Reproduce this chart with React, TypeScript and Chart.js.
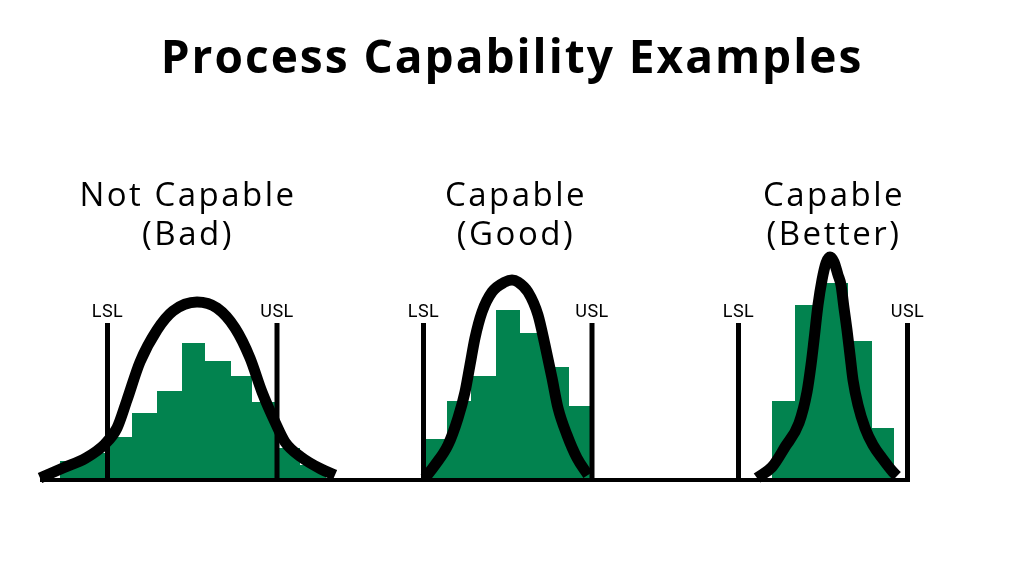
import React, { useEffect, useRef } from "react";
import { Chart, registerables } from "chart.js";

Chart.register(...registerables);

// ---------- data ----------
const TITLE = "Process Capability Examples";
const PANEL_TITLES = [
  ["Not Capable", "(Bad)"],
  ["Capable", "(Good)"],
  ["Capable", "(Better)"],
];

// process axis (arbitrary measurement units) and frequency axis
const AXIS_EXTENT = [40, 910];

// histograms: bin edges and counts
const H1_EDGES = [60, 84, 108, 132, 157, 182, 205, 231, 252, 276, 300, 326];
const H1_COUNTS = [19, 27, 43, 67, 89, 137, 119, 104, 78, 32, 15];
const H2_EDGES = [422, 447, 471, 496, 520, 545, 569, 592];
const H2_COUNTS = [41, 79, 104, 170, 147, 113, 74];
const H3_EDGES = [772, 795, 822, 848, 872, 894];
const H3_COUNTS = [79, 175, 197, 139, 52];

// fitted curves
const C1_X = [40, 63, 86, 105, 117, 127, 140, 157, 173, 197, 217, 235, 250, 262, 275, 285, 301, 321, 335];
const C1_Y = [2, 12, 22, 36, 52, 80, 118, 150, 169, 178, 172, 152, 122, 88, 58, 38, 23, 11, 5];
const C2_X = [425, 435, 448, 458, 465, 470, 475, 482, 492, 505, 512, 518, 528, 538, 545, 552, 558, 567, 577, 588];
const C2_Y = [2, 15, 35, 62, 88, 115, 142, 168, 188, 198, 200, 198, 188, 165, 135, 102, 72, 45, 22, 5];
const C3_X = [757, 772, 785, 799, 807, 811, 814, 818, 822, 826, 830, 834, 838, 841, 844, 847, 850, 853, 858, 865, 873, 882, 893, 897];
const C3_Y = [2, 13, 33, 57, 88, 115, 140, 175, 200, 217, 223, 218, 205, 195, 172, 150, 125, 100, 75, 52, 35, 22, 8, 4];

// specification limits
const LSL = [107.5, 423.5, 738.5];
const USL = [277, 592, 907.5];
const SPEC_TOP = 157;

// ---------- layout / style ----------
const PANEL_TITLE_X = [187, 515, 833];
const PANEL_TITLE_Y = [274, 235];
const GREEN = "#02834f";

function histogram(edges: number[], counts: number[]) {
  // stepped "before": each interval takes the value of its left point
  const pts = counts.map((c, i) => ({ x: edges[i], y: c }));
  pts.push({ x: edges[edges.length - 1], y: counts[counts.length - 1] });
  return pts;
}
function curve(xs: number[], ys: number[]) {
  return xs.map((x, i) => ({ x, y: ys[i] }));
}
function specLines() {
  const pts: any[] = [];
  [...LSL, ...USL].forEach((v) => {
    pts.push({ x: v, y: 0 }, { x: v, y: SPEC_TOP }, { x: v, y: null });
  });
  return pts;
}

const titleSpacingPlugin = {
  id: "titleSpacing",
  beforeDraw(chart: any) {
    chart.ctx.letterSpacing = "2px";
  },
  beforeDatasetsDraw(chart: any) {
    chart.ctx.letterSpacing = "0px";
  },
};

const labelsPlugin = {
  id: "panelLabels",
  afterDatasetsDraw(chart: any) {
    const { ctx } = chart;
    const x = chart.scales.x;
    const y = chart.scales.y;
    ctx.save();
    ctx.fillStyle = "#000";
    ctx.textAlign = "center";
    ctx.textBaseline = "alphabetic";
    ctx.letterSpacing = "0.5px";
    ctx.font = "400 18px Roboto, sans-serif";
    const ly = y.getPixelForValue(SPEC_TOP) - 6;
    LSL.forEach((v) => ctx.fillText("LSL", x.getPixelForValue(v), ly));
    USL.forEach((v) => ctx.fillText("USL", x.getPixelForValue(v), ly));
    ctx.letterSpacing = "2.5px";
    ctx.font = "400 33px 'Open Sans', sans-serif";
    PANEL_TITLES.forEach((lines, i) => {
      lines.forEach((t, j) => {
        ctx.fillText(t, x.getPixelForValue(PANEL_TITLE_X[i]) + 1, y.getPixelForValue(PANEL_TITLE_Y[j]));
      });
    });
    ctx.restore();
  },
};

export default function App() {
  const ref = useRef<HTMLCanvasElement | null>(null);
  useEffect(() => {
    if (!ref.current) return;
    const histStyle = {
      type: "line" as const,
      stepped: "before" as const,
      fill: "origin",
      backgroundColor: GREEN,
      borderColor: "rgba(0,0,0,0)",
      borderWidth: 0,
      pointRadius: 0,
      order: 4,
      clip: false as any,
    };
    const curveStyle = {
      type: "line" as const,
      borderColor: "#000",
      borderWidth: 11,
      cubicInterpolationMode: "monotone" as const,
      pointRadius: 0,
      fill: false,
      order: 1,
      clip: false as any,
      borderCapStyle: "butt" as const,
    };
    const chart = new Chart(ref.current, {
      type: "line",
      data: {
        datasets: [
          { ...histStyle, label: "Not capable histogram", data: histogram(H1_EDGES, H1_COUNTS) },
          { ...histStyle, label: "Capable histogram", data: histogram(H2_EDGES, H2_COUNTS) },
          { ...histStyle, label: "Better histogram", data: histogram(H3_EDGES, H3_COUNTS) },
          {
            type: "line",
            label: "Axis",
            data: AXIS_EXTENT.map((x) => ({ x, y: 0 })),
            borderColor: "#000",
            borderWidth: 4,
            pointRadius: 0,
            fill: false,
            order: 3,
            clip: false as any,
          },
          {
            type: "line",
            label: "Spec limits",
            data: specLines(),
            borderColor: "#000",
            borderWidth: 5,
            pointRadius: 0,
            fill: false,
            spanGaps: false,
            order: 2,
            clip: false as any,
          },
          { ...curveStyle, label: "Not capable curve", data: curve(C1_X, C1_Y) },
          { ...curveStyle, label: "Capable curve", data: curve(C2_X, C2_Y) },
          { ...curveStyle, label: "Better curve", data: curve(C3_X, C3_Y) },
        ] as any,
      },
      options: {
        animation: false,
        responsive: false,
        events: [],
        layout: { padding: { left: 0, right: 0, top: 0, bottom: 96 } },
        scales: {
          x: { type: "linear", min: 0, max: 1024, display: false },
          y: { type: "linear", min: 0, max: 380, display: false },
        },
        plugins: {
          legend: { display: false },
          tooltip: { enabled: false },
          title: {
            display: true,
            text: TITLE,
            color: "#000",
            font: { family: "'Open Sans', sans-serif", size: 46, weight: "bold", lineHeight: 1.2 },
            padding: { top: 32.4, bottom: 12.4 },
          },
        },
      },
      plugins: [titleSpacingPlugin, labelsPlugin],
    });
    return () => chart.destroy();
  }, []);
  return (
    <div style={{ position: "absolute", left: 0, top: 0, width: 1024, height: 576, background: "#fff" }}>
      <canvas ref={ref} width={1024} height={576} style={{ display: "block" }} />
    </div>
  );
}
